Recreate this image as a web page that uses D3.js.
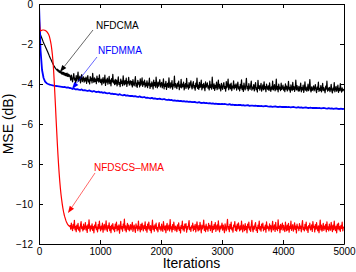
<!DOCTYPE html>
<html><head><meta charset="utf-8">
<script src="https://cdn.jsdelivr.net/npm/d3@7"></script>
<style>body{margin:0;background:#fff}svg{display:block}text{font-family:"Liberation Sans",Arial,sans-serif}</style>
</head><body><svg id="c" width="356" height="272"></svg>
<script>
const stepNfdcma = 10, stepNfdmma = 25, stepNfdscs = 10;
const xTicks = [0,1000,2000,3000,4000,5000];
const yTicks = [0,-2,-4,-6,-8,-10,-12];
const nfdcma = [0,-1.3,-1.5,-1.58,-1.66,-1.74,-1.82,-1.9,-1.97,-2.04,-2.1,-2.17,-2.24,-2.31,-2.38,-2.45,-2.52,-2.6,-2.67,-2.74,-2.8,-2.87,-2.94,-3.0,-3.06,-3.12,-3.17,-3.22,-3.26,-3.3,-3.26,-3.36,-3.3,-3.42,-3.34,-3.45,-3.36,-3.5,-3.4,-3.52,-3.42,-3.55,-3.44,-3.58,-3.47,-3.6,-3.45,-3.62,-3.5,-3.63,-3.54,
-3.62,-3.81,-3.55,-3.74,-3.90,-3.66,-3.48,-3.79,-3.71,-3.93,-3.58,-3.84,-3.69,-3.40,-3.86,-3.75,-3.61,-3.95,-3.70,-3.53,-3.88,-3.77,-3.64,-3.91,-3.72,
-3.85,-3.66,-3.97,-3.74,-3.58,-3.89,-3.79,-4.00,-3.63,-3.83,-3.71,-3.94,-3.47,-3.81,-3.92,-3.69,-3.87,-3.76,-3.98,-3.60,-3.84,-3.73,-3.91,-3.54,-3.86,
-3.93,-3.75,-4.04,-3.82,-3.68,-3.96,-3.88,-3.56,-4.07,-3.79,-3.91,-3.70,-4.01,-3.85,-3.62,-3.98,-3.80,-4.09,-3.73,-3.90,-3.52,-3.95,-3.84,-4.03,-3.77,
-3.99,-3.81,-4.10,-3.89,-3.64,-4.02,-3.93,-4.13,-3.76,-3.97,-3.86,-4.08,-3.59,-3.94,-4.05,-3.83,-4.00,-3.71,-4.12,-3.88,-3.96,-3.67,-4.06,-3.91,-3.84,
-4.04,-3.87,-4.15,-3.78,-3.99,-4.09,-3.90,-3.63,-4.11,-3.95,-4.17,-3.82,-4.01,-3.92,-4.14,-3.74,-4.06,-3.97,-3.69,-4.12,-3.89,-4.03,-3.80,-4.16,-3.96,
-4.10,-3.84,-4.18,-3.95,-4.06,-3.71,-4.22,-3.99,-4.13,-3.89,-4.02,-4.25,-3.80,-4.08,-3.93,-4.16,-3.66,-4.04,-4.20,-3.91,-4.11,-3.97,-3.78,-4.15,-4.01,
-3.92,-4.19,-4.05,-3.74,-4.24,-4.00,-4.12,-3.87,-4.27,-4.03,-3.96,-4.17,-3.69,-4.09,-4.21,-3.94,-4.14,-3.83,-4.26,-4.02,-4.10,-3.60,-4.18,-3.98,-4.07,
-4.23,-3.95,-4.11,-3.86,-4.28,-4.04,-4.16,-3.77,-4.20,-4.00,-4.13,-3.90,-4.30,-4.07,-3.98,-4.22,-3.72,-4.15,-4.05,-4.26,-3.93,-4.18,-4.02,-3.84,-4.12,
-4.25,-4.01,-3.88,-4.19,-4.08,-4.31,-3.96,-4.14,-3.70,-4.22,-4.05,-4.27,-3.92,-4.17,-4.10,-3.81,-4.29,-4.03,-4.20,-3.97,-4.13,-4.33,-3.89,-4.16,-4.07,
-3.94,-4.21,-4.09,-4.30,-3.85,-4.18,-4.04,-4.26,-3.66,-4.12,-4.23,-3.99,-4.32,-4.07,-4.19,-3.91,-4.28,-4.11,-3.80,-4.24,-4.02,-4.16,-4.35,-3.97,-4.14,
-4.27,-4.05,-3.93,-4.22,-4.13,-4.36,-3.88,-4.19,-4.08,-3.75,-4.29,-4.15,-4.01,-4.24,-3.96,-4.33,-4.10,-4.20,-3.84,-4.26,-4.06,-4.18,-3.99,-4.31,-4.12,
-3.90,-4.25,-4.14,-4.34,-4.02,-4.21,-3.79,-4.28,-4.09,-4.37,-3.95,-4.17,-4.30,-4.05,-3.72,-4.23,-4.12,-4.33,-3.98,-4.19,-4.27,-4.07,-3.86,-4.31,-4.16,
-4.24,-4.03,-4.35,-4.11,-3.93,-4.28,-4.19,-4.40,-3.82,-4.22,-4.08,-4.31,-4.15,-3.97,-4.36,-4.20,-4.04,-4.29,-3.89,-4.25,-4.13,-4.38,-4.00,-4.18,-4.27,
-4.09,-4.32,-3.94,-4.21,-4.37,-4.14,-4.26,-3.85,-4.30,-4.18,-4.03,-4.34,-4.22,-3.76,-4.28,-4.12,-4.39,-4.01,-4.24,-4.16,-4.33,-3.96,-4.27,-4.20,-4.06,
-4.31,-4.15,-4.38,-3.99,-4.26,-4.10,-4.35,-4.21,-3.87,-4.29,-4.17,-4.41,-4.04,-4.24,-4.33,-3.92,-4.27,-4.13,-4.37,-4.20,-3.81,-4.30,-4.08,-4.25,-4.36,
-4.12,-4.34,-4.22,-3.95,-4.39,-4.18,-4.29,-4.05,-4.42,-4.23,-3.89,-4.31,-4.16,-4.36,-4.26,-4.01,-4.33,-4.20,-3.78,-4.28,-4.40,-4.14,-4.32,-4.24,-4.09,
-4.35,-4.19,-4.03,-4.30,-4.43,-4.15,-4.27,-3.91,-4.37,-4.22,-4.32,-4.08,-4.40,-4.25,-3.97,-4.33,-4.18,-4.29,-4.44,-4.11,-4.26,-3.86,-4.36,-4.21,-4.31,
-4.17,-4.38,-4.26,-4.02,-4.34,-4.45,-4.20,-4.31,-3.93,-4.39,-4.24,-4.12,-4.36,-4.28,-4.05,-4.42,-4.22,-4.33,-3.98,-4.29,-4.41,-4.19,-4.35,-4.27,-4.32];
const nfdmma = [0,-2.3,-3.3,-3.7,-3.88,-3.96,-4.0,-4.03,-4.05,-4.07,-4.08,-4.10,-4.11,-4.12,-4.13,-4.14,-4.16,-4.15,-4.18,-4.17,-4.2,
-4.21,-4.25,-4.22,-4.27,-4.26,-4.28,-4.30,-4.27,-4.32,-4.31,-4.33,-4.35,-4.32,-4.36,-4.38,-4.35,-4.39,-4.40,-4.38,-4.42,
-4.41,-4.44,-4.42,-4.46,-4.47,-4.45,-4.49,-4.48,-4.51,-4.50,-4.52,-4.54,-4.51,-4.55,-4.57,-4.54,-4.58,-4.57,-4.59,-4.60,
-4.59,-4.62,-4.61,-4.63,-4.65,-4.62,-4.66,-4.67,-4.65,-4.69,-4.68,-4.70,-4.72,-4.69,-4.73,-4.72,-4.74,-4.75,-4.73,-4.76,
-4.77,-4.75,-4.78,-4.80,-4.78,-4.81,-4.80,-4.83,-4.82,-4.84,-4.83,-4.86,-4.84,-4.87,-4.86,-4.88,-4.87,-4.89,-4.88,-4.90,
-4.91,-4.89,-4.92,-4.93,-4.91,-4.94,-4.95,-4.93,-4.96,-4.95,-4.97,-4.96,-4.98,-4.97,-4.99,-4.98,-5.00,-4.99,-5.01,-5.00,
-5.01,-5.00,-5.02,-5.03,-5.01,-5.04,-5.03,-5.05,-5.04,-5.06,-5.05,-5.04,-5.07,-5.06,-5.08,-5.07,-5.06,-5.09,-5.08,-5.08,
-5.09,-5.08,-5.10,-5.09,-5.11,-5.10,-5.12,-5.11,-5.10,-5.12,-5.13,-5.12,-5.14,-5.13,-5.12,-5.14,-5.15,-5.13,-5.15,-5.14,
-5.15,-5.14,-5.16,-5.15,-5.17,-5.16,-5.15,-5.17,-5.18,-5.16,-5.18,-5.17,-5.19,-5.18,-5.17,-5.19,-5.20,-5.18,-5.20,-5.19,
-5.20,-5.19,-5.21,-5.20,-5.22,-5.21,-5.20,-5.22,-5.23,-5.21,-5.23,-5.22,-5.24,-5.23,-5.22,-5.24,-5.25,-5.23,-5.25,-5.24];
const nfdscsmma = [0,-1.1,-1.35,-1.34,-1.32,-1.31,-1.3,-1.3,-1.3,-1.31,-1.32,-1.34,-1.36,-1.39,-1.43,-1.48,-1.54,-1.62,-1.74,-1.88,-2.05,-2.28,-2.55,-2.9,-3.35,-3.9,-4.5,-5.1,-5.75,-6.35,-6.95,-7.5,-8.0,-8.45,-8.85,-9.2,-9.5,-9.75,-9.98,-10.18,-10.35,-10.5,-10.62,-10.72,-10.82,-10.9,-10.96,-11.02,-11.06,-11.09,-11.12,
-11.08,-11.26,-10.95,-11.19,-11.33,-11.02,-11.21,-10.82,-11.29,-11.12,-11.38,-11.05,-11.24,-10.97,-11.31,-11.16,-11.40,-11.07,-10.88,-11.23,-11.14,-11.35,-11.01,-11.27,-11.18,
-10.93,-11.30,-11.11,-11.42,-11.04,-11.22,-10.79,-11.17,-11.36,-11.09,-11.25,-10.99,-11.32,-11.13,-11.44,-11.06,-11.20,-10.90,-11.28,-11.15,-11.39,-11.03,-11.23,-10.86,-11.19,
-11.34,-11.10,-11.26,-10.96,-11.41,-11.14,-11.02,-11.30,-11.18,-10.84,-11.27,-11.37,-11.08,-11.21,-10.94,-11.33,-11.12,-11.43,-11.05,-11.24,-10.98,-11.29,-11.16,-11.38,-11.00,
-11.22,-10.91,-11.35,-11.11,-11.28,-11.04,-11.46,-11.17,-10.87,-11.25,-11.13,-11.36,-11.01,-11.20,-10.75,-11.31,-11.09,-11.40,-11.15,-10.97,-11.27,-11.06,-11.34,-11.19,-11.03,
-11.30,-11.12,-10.92,-11.37,-11.18,-11.05,-11.26,-11.42,-10.99,-11.21,-11.10,-11.33,-10.85,-11.24,-11.14,-11.39,-11.02,-11.28,-10.95,-11.17,-11.35,-11.07,-11.23,-10.89,-11.31,
-11.13,-11.41,-11.00,-11.25,-10.90,-11.19,-11.32,-11.08,-11.44,-11.15,-10.81,-11.27,-11.11,-11.36,-11.04,-11.22,-10.96,-11.30,-11.17,-11.39,-11.06,-10.93,-11.26,-11.14,-11.34,
-11.01,-11.23,-11.37,-10.88,-11.18,-11.29,-11.09,-11.43,-11.12,-10.97,-11.31,-11.20,-11.05,-11.35,-10.78,-11.24,-11.14,-11.40,-11.03,-11.27,-10.91,-11.16,-11.33,-11.10,-11.21,
-11.38,-11.04,-11.25,-10.94,-11.32,-11.15,-11.45,-11.07,-11.22,-10.86,-11.30,-11.12,-11.36,-11.00,-11.19,-10.98,-11.41,-11.13,-11.26,-11.06,-10.83,-11.28,-11.17,-11.37,-11.09,
-11.20,-10.95,-11.34,-11.11,-11.27,-11.02,-11.40,-11.16,-10.89,-11.23,-11.35,-11.08,-11.29,-10.92,-11.18,-11.44,-11.05,-11.24,-11.13,-10.80,-11.32,-11.10,-11.38,-11.01,-11.26,
-11.14,-11.36,-10.97,-11.21,-11.07,-11.33,-11.18,-10.87,-11.42,-11.12,-11.28,-11.03,-11.24,-10.93,-11.37,-11.16,-11.04,-11.30,-10.84,-11.20,-11.39,-11.09,-11.25,-11.15,-10.96,
-11.31,-11.06,-11.22,-11.43,-10.99,-11.17,-11.34,-11.08,-10.77,-11.26,-11.13,-11.38,-11.02,-11.23,-10.91,-11.29,-11.19,-11.41,-11.05,-11.15,-10.88,-11.32,-11.11,-11.36,-11.00,
-11.25,-10.94,-11.18,-11.35,-11.09,-11.28,-10.86,-11.21,-11.40,-11.04,-11.16,-11.33,-10.98,-11.27,-11.12,-11.44,-11.01,-11.20,-10.90,-11.30,-11.14,-11.37,-11.07,-10.82,-11.24,
-11.39,-11.10,-11.26,-11.03,-10.93,-11.32,-11.17,-11.42,-11.06,-11.22,-10.85,-11.29,-11.13,-11.36,-11.00,-11.19,-10.96,-11.34,-11.15,-11.27,-11.05,-11.41,-10.89,-11.23,-11.11,
-11.18,-11.35,-10.99,-11.24,-11.08,-11.40,-11.14,-10.87,-11.30,-11.20,-11.04,-11.37,-10.92,-11.26,-11.16,-11.33,-10.79,-11.22,-11.10,-11.43,-11.02,-11.28,-11.13,-10.95,-11.31,
-11.07,-11.25,-11.38,-10.91,-11.19,-11.34,-11.05,-11.29,-10.97,-11.41,-11.12,-11.23,-10.86,-11.32,-11.16,-11.03,-11.36,-11.20,-10.94,-11.27,-11.10,-11.45,-11.01,-11.21,-11.15,
-11.33,-10.98,-11.22,-11.11,-11.39,-11.06,-10.83,-11.28,-11.17,-11.35,-11.02,-11.24,-10.90,-11.31,-11.14,-11.42,-11.08,-11.19,-10.96,-11.30,-11.25,-11.04,-11.37,-10.88,-11.18,
-11.12,-11.40,-11.03,-11.26,-10.93,-11.21,-11.34,-11.09,-11.43,-11.15,-10.80,-11.29,-11.06,-11.36,-11.18,-10.97,-11.32,-11.11,-11.24,-11.02,-11.39,-10.89,-11.27,-11.14,-11.35,
-11.00,-11.23,-11.31,-10.92,-11.17,-11.38,-11.05,-11.28,-10.86,-11.20,-11.33,-11.10,-11.44,-11.01,-11.25,-10.95,-11.30,-11.13,-11.37,-11.07,-11.22,-10.90,-11.34,-11.16,-11.19];
const seriesNames = ["NFDCMA","NFDMMA","NFDSCS\u2013MMA"];
const seriesColors = ["#000000","#0000ff","#ff0000"];
// annotations in data coordinates: [textX, textY, arrowStartX, arrowStartY, arrowEndX, arrowEndY]
const annotations = [
  [934,-1.25, 885,-1.3, 344,-3.4],
  [967,-2.5, 951,-2.65, 541,-4.25],
  [902,-8.35, 918,-8.45, 475,-10.45]
];

const svg = d3.select("#c");
const L=39, R=344, T=4, B=244;
const x = d3.scaleLinear().domain([0,5000]).range([L,R]);
const y = d3.scaleLinear().domain([-12,0]).range([B,T]);

svg.append("defs").append("clipPath").attr("id","clip").append("rect")
  .attr("x",L).attr("y",T).attr("width",R-L).attr("height",B-T);

const seriesData = [nfdcma, nfdmma, nfdscsmma];
const steps = [stepNfdcma, stepNfdmma, stepNfdscs];
const widths = [1.2, 1.8, 1.2];
const g = svg.append("g").attr("clip-path","url(#clip)");
seriesData.forEach((s,k)=>{
  const line = d3.line().x((d,i)=>x(i*steps[k])).y(d=>y(d));
  g.append("path").attr("d",line(s)).attr("fill","none")
   .attr("stroke",seriesColors[k]).attr("stroke-width",widths[k]).attr("stroke-linejoin","round");
});

// axes (MATLAB box style, ticks inside)
const fs = 10;
const axB = svg.append("g").attr("transform",`translate(0,${B})`)
  .call(d3.axisBottom(x).tickValues(xTicks).tickSizeInner(-4).tickSizeOuter(0).tickPadding(4).tickFormat(d3.format("d")));
const axT = svg.append("g").attr("transform",`translate(0,${T})`)
  .call(d3.axisTop(x).tickValues(xTicks).tickSizeInner(-4).tickSizeOuter(0).tickFormat(""));
const axL = svg.append("g").attr("transform",`translate(${L},0)`)
  .call(d3.axisLeft(y).tickValues(yTicks).tickSizeInner(-4).tickSizeOuter(0).tickPadding(6)
    .tickFormat(d=>d<0?"\u2212"+Math.abs(d):String(d)));
const axR = svg.append("g").attr("transform",`translate(${R},0)`)
  .call(d3.axisRight(y).tickValues(yTicks).tickSizeInner(-4).tickSizeOuter(0).tickFormat(""));
[axB,axT,axL,axR].forEach(a=>{
  a.selectAll(".domain").attr("stroke","#000");
  a.selectAll(".tick line").attr("stroke","#000");
  a.selectAll("text").attr("font-size",fs).attr("fill","#000").attr("font-family","Liberation Sans, Arial, sans-serif");
});

svg.append("text").attr("x",(L+R)/2).attr("y",268).attr("text-anchor","middle")
  .attr("font-size",14).text("Iterations");
svg.append("text").attr("transform",`translate(13,${(T+B)/2}) rotate(-90)`).attr("text-anchor","middle")
  .attr("font-size",14).text("MSE (dB)");

// annotations
annotations.forEach((a,k)=>{
  const c = seriesColors[k];
  const x1=x(a[2]), y1=y(a[3]), x2=x(a[4]), y2=y(a[5]);
  const ang = Math.atan2(y2-y1,x2-x1);
  const hl=7, hw=2.6;
  const bx=x2-hl*Math.cos(ang), by=y2-hl*Math.sin(ang);
  svg.append("line").attr("x1",x1).attr("y1",y1).attr("x2",bx).attr("y2",by)
    .attr("stroke",c).attr("stroke-width",0.6);
  const px=-Math.sin(ang)*hw, py=Math.cos(ang)*hw;
  svg.append("path").attr("d",`M${x2},${y2}L${bx+px},${by+py}L${bx-px},${by-py}Z`).attr("fill",c);
  svg.append("text").attr("x",x(a[0])).attr("y",y(a[1])).attr("font-size",fs).attr("fill",c).text(seriesNames[k]);
});
</script></body></html>
